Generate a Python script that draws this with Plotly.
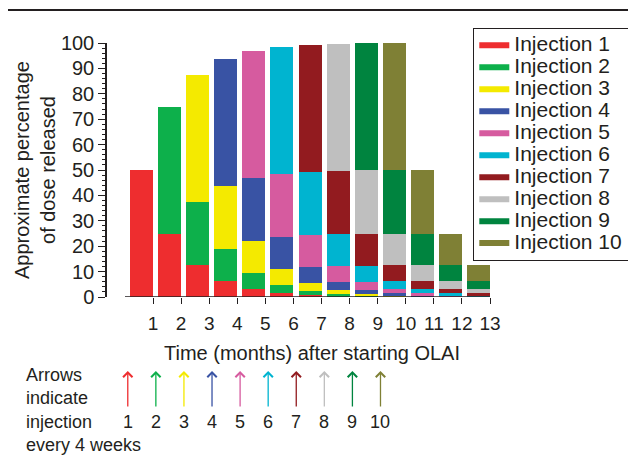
import plotly.graph_objects as go

months = [1, 2, 3, 4, 5, 6, 7, 8, 9, 10, 11, 12, 13]
injection_names = [f"Injection {i}" for i in range(1, 11)]
injection_time = [0, 1, 2, 3, 4, 5, 6, 7, 8, 9]
injection_labels = ["1", "2", "3", "4", "5", "6", "7", "8", "9", "10"]
note_lines = ["Arrows", "indicate", "injection", "every 4 weeks"]

inj1 = [50, 25, 12.5, 6.25, 3.13, 1.56, 0.78, 0.39, 0.2, 0.1, 0.05, 0.02, 0.01]
inj2 = [0, 50, 25, 12.5, 6.25, 3.13, 1.56, 0.78, 0.39, 0.2, 0.1, 0.05, 0.02]
inj3 = [0, 0, 50, 25, 12.5, 6.25, 3.13, 1.56, 0.78, 0.39, 0.2, 0.1, 0.05]
inj4 = [0, 0, 0, 50, 25, 12.5, 6.25, 3.13, 1.56, 0.78, 0.39, 0.2, 0.1]
inj5 = [0, 0, 0, 0, 50, 25, 12.5, 6.25, 3.13, 1.56, 0.78, 0.39, 0.2]
inj6 = [0, 0, 0, 0, 0, 50, 25, 12.5, 6.25, 3.13, 1.56, 0.78, 0.39]
inj7 = [0, 0, 0, 0, 0, 0, 50, 25, 12.5, 6.25, 3.13, 1.56, 0.78]
inj8 = [0, 0, 0, 0, 0, 0, 0, 50, 25, 12.5, 6.25, 3.13, 1.56]
inj9 = [0, 0, 0, 0, 0, 0, 0, 0, 50, 25, 12.5, 6.25, 3.13]
inj10 = [0, 0, 0, 0, 0, 0, 0, 0, 0, 50, 25, 12.5, 6.25]
series = [inj1, inj2, inj3, inj4, inj5, inj6, inj7, inj8, inj9, inj10]

colors = ["#EE2D2F", "#0DB04B", "#F4EA00", "#3953A4", "#D65B9F",
          "#00B4D0", "#921B1F", "#BFBFBF", "#00843F", "#7F8035"]

y_ticks = [0, 10, 20, 30, 40, 50, 60, 70, 80, 90, 100]

FONT = "Liberation Sans, Arial, sans-serif"
TXT = "#231F20"

fig = go.Figure()
for name, vals, col in zip(injection_names, series, colors):
    fig.add_trace(go.Bar(x=months, y=vals, name=name, width=0.82, offset=-0.82,
                         marker=dict(color=col, line=dict(width=0)),
                         showlegend=False))
for name, col in zip(injection_names, colors):
    fig.add_trace(go.Scatter(x=[None], y=[None], mode="lines",
                             name=f'<span style="font-size:21px">{name}</span>',
                             line=dict(color=col, width=6)))

# the page body adds an 8px offset; the figure is sized to fit the window
OFF = 8
W, H = 636 - OFF, 458 - OFF
L, R, T, B = 107 - OFF, 146, 43 - OFF, 161
pw, ph = W - L - R, H - T - B


def px_x(p):
    return (p - OFF - L) / pw


def px_y(p):
    return (H - B - (p - OFF)) / ph


fig.update_layout(
    width=W, height=H, barmode="stack", bargap=0,
    margin=dict(l=L, r=R, t=T, b=B, autoexpand=False),
    plot_bgcolor="white", paper_bgcolor="white",
    font=dict(family=FONT, color=TXT, size=20),
    xaxis=dict(range=[-0.64, 13.0], tickvals=months, ticktext=[str(m) for m in months],
               ticks="outside", ticklen=6, tickwidth=1.3, tickcolor="#231F20",
               showline=False, showgrid=False, zeroline=False,
               tickfont=dict(size=19), ticklabelstandoff=3),
    yaxis=dict(range=[0, 100], tickvals=y_ticks, ticks="outside", ticklen=7,
               tickwidth=1.3, tickcolor="#231F20",
               showline=True, linecolor="#231F20", linewidth=1.5,
               showgrid=False, zeroline=False, tickfont=dict(size=20),
               minor=dict(dtick=2, ticks="outside", ticklen=3.5, tickwidth=1,
                          tickcolor="#231F20")),
    legend=dict(x=px_x(473), y=px_y(28), xanchor="left", yanchor="top",
                bordercolor="#231F20", borderwidth=1.3, bgcolor="white",
                font=dict(size=14.6, color=TXT), tracegroupgap=0,
                traceorder="normal", maxheight=400),
    showlegend=True,
)

# x axis baseline (does not meet the y axis)
fig.add_shape(type="line", xref="x", yref="y", x0=0, x1=13, y0=0, y1=0,
              line=dict(color="#231F20", width=1.5))
# top rule
fig.add_shape(type="line", xref="paper", yref="paper", x0=px_x(4), x1=px_x(640),
              y0=px_y(10), y1=px_y(10), line=dict(color="#231F20", width=2))

ann = []
ann.append(dict(text="Approximate percentage<br>of dose released", textangle=-90,
                xref="paper", yref="paper", x=px_x(35), y=0.5, xanchor="center",
                yanchor="middle", showarrow=False, font=dict(size=20)))
ann.append(dict(text="Time (months) after starting OLAI", xref="paper", yref="paper",
                x=px_x(312), y=px_y(353), xanchor="center", yanchor="middle",
                showarrow=False, font=dict(size=20)))
for line, yp in zip(note_lines, [375, 398.4, 421.8, 445.2]):
    ann.append(dict(text=line, xref="paper", yref="paper", x=px_x(25), y=px_y(yp),
                    xanchor="left", yanchor="middle", showarrow=False,
                    borderpad=0, font=dict(size=18)))
for t, lab, col in zip(injection_time, injection_labels, colors):
    ann.append(dict(text="", xref="x", yref="paper", x=t + 0.1, y=px_y(371),
                    ax=0, ay=37, showarrow=True, arrowhead=4, arrowsize=1.4,
                    arrowwidth=1.3, arrowcolor=col))
    ann.append(dict(text=lab, xref="x", yref="paper", x=t + 0.1, y=px_y(421.8),
                    xanchor="center", yanchor="middle", showarrow=False,
                    borderpad=0, font=dict(size=18)))
fig.update_layout(annotations=ann)

fig.write_html("out.html")
